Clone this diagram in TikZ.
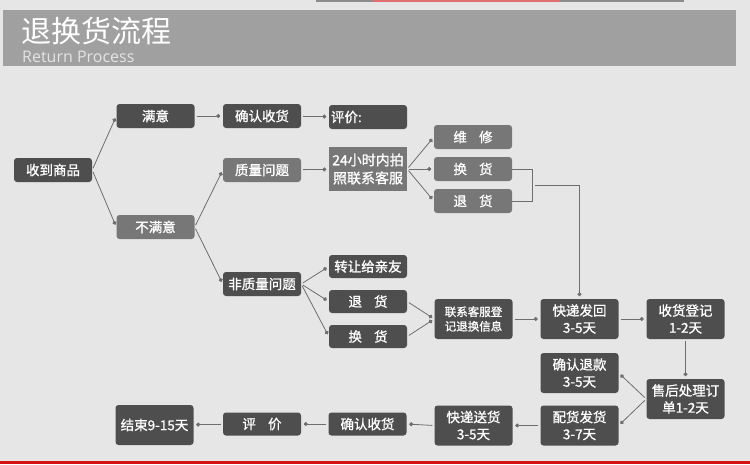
\documentclass[tikz,border=0pt]{standalone}
\usepackage{fontspec}
\setmainfont{Noto Sans CJK SC}
\newfontfamily\boxfam{Noto Sans CJK SC}[FakeBold=1.1]
\newfontfamily\latinsub{Open Sans}
\usetikzlibrary{arrows.meta}
\definecolor{bg}{HTML}{E6E6E6}
\definecolor{hdr}{HTML}{A0A0A0}
\definecolor{dark}{HTML}{4E4E4E}
\definecolor{mid}{HTML}{777777}
\definecolor{linec}{HTML}{6E6E6E}
\definecolor{topgray}{HTML}{8C8C8C}
\definecolor{topred}{HTML}{E07070}
\definecolor{botred}{HTML}{D41010}
\definecolor{subgray}{HTML}{E4E4E4}
\newcommand\gp{\hspace{0.9em}}
\newcommand\bxf{\boxfam\fontsize{13.5}{17}\selectfont}
\newcommand\smf{\boxfam\fontsize{11.5}{14.5}\selectfont}
\tikzset{
  box/.style={rounded corners=3pt, fill=dark, text=white, minimum width=78pt,
    minimum height=24pt, inner sep=0pt, align=center, font=\bxf},
  lbox/.style={box, fill=mid},
  tall/.style={minimum height=40pt},
  short/.style={minimum height=23pt},
  conn/.style={draw=linec, line width=0.8pt, -{Circle[length=4pt]}, shorten >=2.5pt, shorten <=2pt},
  plain/.style={draw=linec, line width=0.8pt}
}
\begin{document}
\begin{tikzpicture}[x=1pt,y=-1pt]
\fill[bg] (0,0) rectangle (750,464);
\useasboundingbox (0,0) rectangle (750,464);
\fill[hdr] (3,10) rectangle (736,66);
\fill[topgray] (316,0) rectangle (684,1.5);
\fill[topred] (373,0) rectangle (560,1.5);
\fill[botred] (0,461) rectangle (750,464);
\node[anchor=base west, inner sep=0pt, text=white, font=\fontsize{30}{30}\selectfont] (title) at (21,42) {退换货流程};
\node[anchor=base west, inner sep=0pt, text=subgray, font=\latinsub\fontsize{16}{16}\selectfont] (sub) at (22,62) {Return Process};

\node[box] (sd) at (53,170) {收到商品};
\node[box] (my) at (155.5,116) {满意};
\node[box] (qr1) at (262,116) {确认收货};
\node[box, text width=74pt, align=left] (pj1) at (368,117) {评价:};
\node[lbox] (zl) at (262,170) {质量问题};
\node[lbox, sharp corners, minimum height=44pt, font=\boxfam\fontsize{14}{18}\selectfont] (h24) at (368,169) {24小时内拍\\照联系客服};
\node[lbox] (bmy) at (155.5,227) {不满意};
\node[lbox] (wx) at (473,137) {维\gp 修};
\node[lbox] (hh1) at (473,169) {换\gp 货};
\node[lbox] (th1) at (473,201) {退\gp 货};
\node[box] (fzl) at (262,284) {非质量问题};
\node[box, short] (zr) at (368,266.5) {转让给亲友};
\node[box, short] (th2) at (368,301.5) {退\gp 货};
\node[box, short] (hh2) at (368,336.5) {换\gp 货};
\node[box, tall, font=\smf] (lx) at (473.5,319) {联系客服登\\记退换信息};
\node[box, tall] (kdfh) at (579.5,319) {快递发回\\3-5天};
\node[box, tall] (shdj) at (685.5,319) {收货登记\\1-2天};
\node[box, tall] (qrtk) at (579.5,373) {确认退款\\3-5天};
\node[box, tall] (shcl) at (685.5,399) {售后处理订\\单1-2天};
\node[box, tall] (phfh) at (579.5,425.5) {配货发货\\3-7天};
\node[box, tall] (kdsh) at (473.5,425.5) {快递送货\\3-5天};
\node[box, short] (qr2) at (367.5,424) {确认收货};
\node[box, short] (pj2) at (262,424) {评\gp 价};
\node[box, tall] (js) at (154.5,425) {结束9-15天};

\draw[conn] (sd.east) -- (my.west);
\draw[conn] (sd.east) -- (bmy.west);
\draw[conn] (my) -- (qr1);
\draw[conn] (qr1) -- (pj1);
\draw[conn] (bmy.east) -- (zl.west);
\draw[conn] (bmy.east) -- (fzl.west);
\draw[conn] (zl) -- (h24);
\draw[conn] (h24.east) -- (wx.west);
\draw[conn] (h24.east) -- (hh1.west);
\draw[conn] (h24.east) -- (th1.west);
\draw[plain] (hh1.east) -- ++(20,0) |- (th1.east);
\coordinate (bj) at (533,185);
\draw[conn] (bj) -| (kdfh.north);
\draw[conn] (fzl.east) -- (zr.west);
\draw[conn] (fzl.east) -- (th2.west);
\draw[conn] (fzl.east) -- (hh2.west);
\draw[conn] (th2.east) -- (lx.west);
\draw[conn] (hh2.east) -- (lx.west);
\draw[conn] (lx) -- (kdfh);
\draw[conn] (kdfh) -- (shdj);
\draw[conn] (shdj) -- (shcl);
\draw[conn] (shcl.west) -- (qrtk.east);
\draw[conn] (shcl.west) -- (phfh.east);
\draw[conn] (phfh) -- (kdsh);
\draw[conn] (kdsh.west) -- (qr2.east);
\draw[conn] (qr2) -- (pj2);
\draw[conn] (pj2) -- (js);
\end{tikzpicture}
\end{document}
